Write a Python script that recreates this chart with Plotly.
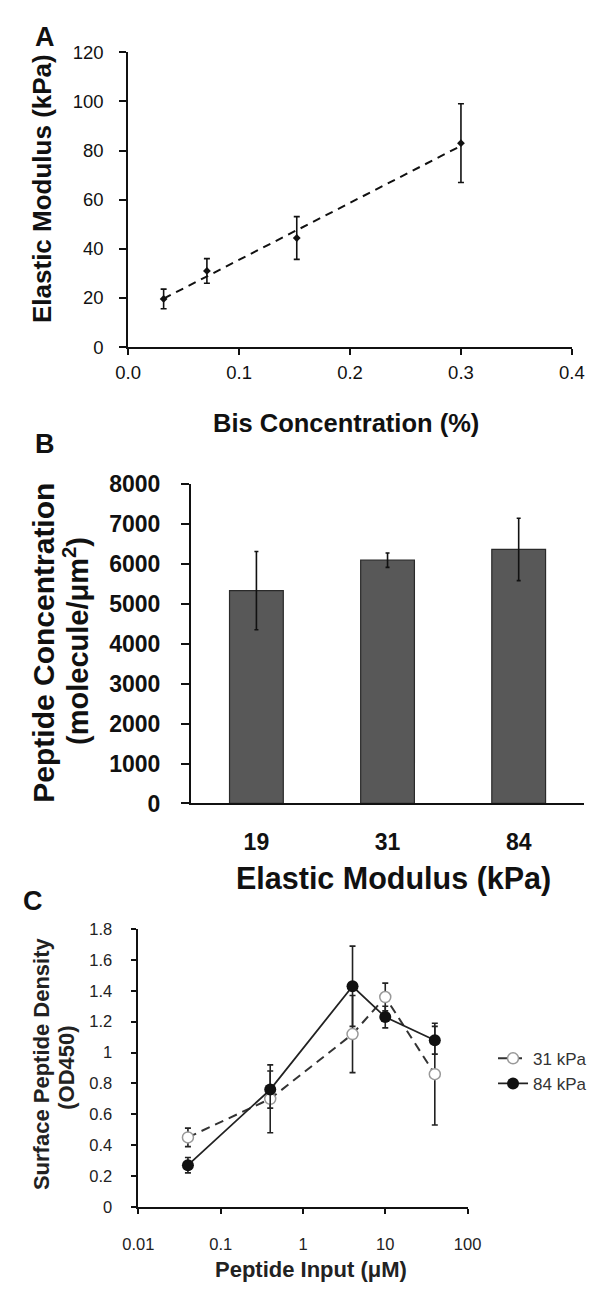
import numpy as np
import plotly.graph_objects as go

# Panel A: elastic modulus vs bis-acrylamide concentration
bis_conc = [0.032, 0.071, 0.152, 0.300]
modulus = [19.6, 31.0, 44.4, 83.0]
modulus_err = [4.0, 5.0, 8.7, 16.0]

# Panel B: peptide surface concentration by gel stiffness
stiffness_labels = ["19", "31", "84"]
peptide_conc = [5330, 6090, 6360]
peptide_conc_err = [980, 180, 780]

# Panel C: surface peptide density (OD450) vs peptide input
peptide_input = [0.04, 0.4, 4, 10, 40]
od_31 = [0.45, 0.70, 1.12, 1.36, 0.86]
od_31_err = [0.06, 0.22, 0.25, 0.09, 0.33]
od_84 = [0.27, 0.76, 1.43, 1.23, 1.08]
od_84_err = [0.05, 0.12, 0.26, 0.07, 0.09]

W, H = 603, 1292
FONT = "Liberation Sans, Arial, sans-serif"


def px_x(x):
    return x / W


def px_y(y):
    return 1 - y / H


# linear trendline through panel A points
slope, intercept = np.polyfit(bis_conc, modulus, 1)
fit_x = [bis_conc[0], bis_conc[-1]]
fit_y = [slope * v + intercept for v in fit_x]

fig = go.Figure()

# ---- Panel A ----
fig.add_trace(go.Scatter(
    x=fit_x, y=fit_y, mode="lines", xaxis="x", yaxis="y",
    line=dict(color="#111", width=2, dash="8px,6px"), showlegend=False,
    hoverinfo="skip"))
fig.add_trace(go.Scatter(
    x=bis_conc, y=modulus, mode="markers", xaxis="x", yaxis="y",
    marker=dict(color="#111", size=6, symbol="diamond"),
    error_y=dict(type="data", array=modulus_err, color="#111",
                 thickness=1.6, width=3),
    showlegend=False))

# ---- Panel B ----
fig.add_trace(go.Bar(
    x=stiffness_labels, y=peptide_conc, xaxis="x2", yaxis="y2",
    marker=dict(color="#585858", line=dict(color="#2a2a2a", width=1.2)),
    width=0.41,
    error_y=dict(type="data", array=peptide_conc_err, color="#111",
                 thickness=1.6, width=2),
    showlegend=False))

# ---- Panel C ----
fig.add_trace(go.Scatter(
    x=peptide_input, y=od_31, mode="lines+markers", xaxis="x3", yaxis="y3",
    name="31 kPa",
    line=dict(color="#333", width=2, dash="9px,6px"),
    marker=dict(color="white", size=11, line=dict(color="#999", width=1.5)),
    error_y=dict(type="data", array=od_31_err, color="#222",
                 thickness=1.6, width=3)))
fig.add_trace(go.Scatter(
    x=peptide_input, y=od_84, mode="lines+markers", xaxis="x3", yaxis="y3",
    name="84 kPa",
    line=dict(color="#222", width=1.8),
    marker=dict(color="#111", size=12),
    error_y=dict(type="data", array=od_84_err, color="#222",
                 thickness=1.6, width=3)))

axis_common = dict(showline=True, linecolor="#111", linewidth=1.8,
                   showgrid=False, zeroline=False, ticks="outside",
                   tickcolor="#111", tickwidth=1.5, mirror=False)

fig.update_layout(
    width=W, height=H,
    margin=dict(l=0, r=0, t=0, b=0),
    paper_bgcolor="white", plot_bgcolor="white",
    font=dict(family=FONT, color="#111"),
    # Panel A axes
    xaxis=dict(domain=[px_x(118), px_x(585)], anchor="y", range=[0, 0.4],
               tickvals=[0, 0.1, 0.2, 0.3, 0.4],
               ticktext=["0.0", "0.1", "0.2", "0.3", "0.4"],
               ticklen=6, ticklabelstandoff=2,
               tickfont=dict(size=18.5, color="#111"), **axis_common),
    yaxis=dict(domain=[px_y(341), px_y(40)], anchor="x", range=[0, 120],
               tickvals=[0, 20, 40, 60, 80, 100, 120],
               ticklen=7, ticklabelstandoff=12,
               tickfont=dict(size=18.5, color="#111"), **axis_common),
    # Panel B axes
    xaxis2=dict(domain=[px_x(184), px_x(598)], anchor="y2", range=[-0.5, 2.5],
                type="category", ticklen=0, ticklabelstandoff=17,
                tickfont=dict(size=23, color="#111", weight="bold"),
                **{k: v for k, v in axis_common.items() if k != "ticks"}),
    yaxis2=dict(domain=[px_y(806.7), px_y(480.6)], anchor="x2",
                range=[0, 8000], tickvals=list(range(0, 8001, 1000)),
                ticklen=8, ticklabelstandoff=16,
                tickfont=dict(size=23, color="#111", weight="bold"),
                **axis_common),
    # Panel C axes
    xaxis3=dict(domain=[px_x(128.8), px_x(475.2)], anchor="y3", type="log",
                range=[-2, 2], tickvals=[0.01, 0.1, 1, 10, 100],
                ticktext=["0.01", "0.1", "1", "10", "100"],
                ticklen=5, ticklabelstandoff=17,
                tickfont=dict(size=16.5, color="#222"), **axis_common),
    yaxis3=dict(domain=[px_y(1218.3), px_y(935)], anchor="x3", range=[0, 1.8],
                tickvals=[0, 0.2, 0.4, 0.6, 0.8, 1, 1.2, 1.4, 1.6, 1.8],
                ticktext=["0", "0.2", "0.4", "0.6", "0.8", "1", "1.2", "1.4",
                          "1.6", "1.8"],
                ticklen=5, ticklabelstandoff=16,
                tickfont=dict(size=16.5, color="#222"), **axis_common),
    legend=dict(x=px_x(502), y=px_y(1080), xanchor="left", yanchor="middle",
                bgcolor="rgba(0,0,0,0)", itemwidth=30, tracegroupgap=0,
                font=dict(size=17, color="#333", family=FONT)),
)


def label(text, x, y, size, angle=0, bold=True, color="#111"):
    fig.add_annotation(
        text=f"<b>{text}</b>" if bold else text,
        x=px_x(x), y=px_y(y), xref="paper", yref="paper",
        xanchor="center", yanchor="middle", showarrow=False,
        textangle=angle, font=dict(size=size, color=color, family=FONT))


# panel letters
label("A", 30, 24, 27)
label("B", 31, 440, 27)
label("C", 18, 906, 27)

# axis titles
label("Elastic Modulus (kPa)", 28, 179, 26, angle=-90)
label("Bis Concentration (%)", 347, 418, 25.5)
label("Peptide Concentration", 28, 643, 30, angle=-90)
label("(molecule/μm<sup>2</sup>)", 63, 641, 29, angle=-90)
label("Elastic Modulus (kPa)", 397, 883, 30.5)
label("Surface Peptide Density", 27, 1072, 22, angle=-90, color="#222")
label("(OD450)", 53, 1076, 22, angle=-90, color="#222")
label("Peptide Input (μM)", 310, 1282, 22, color="#222")

fig.write_html("out.html")
